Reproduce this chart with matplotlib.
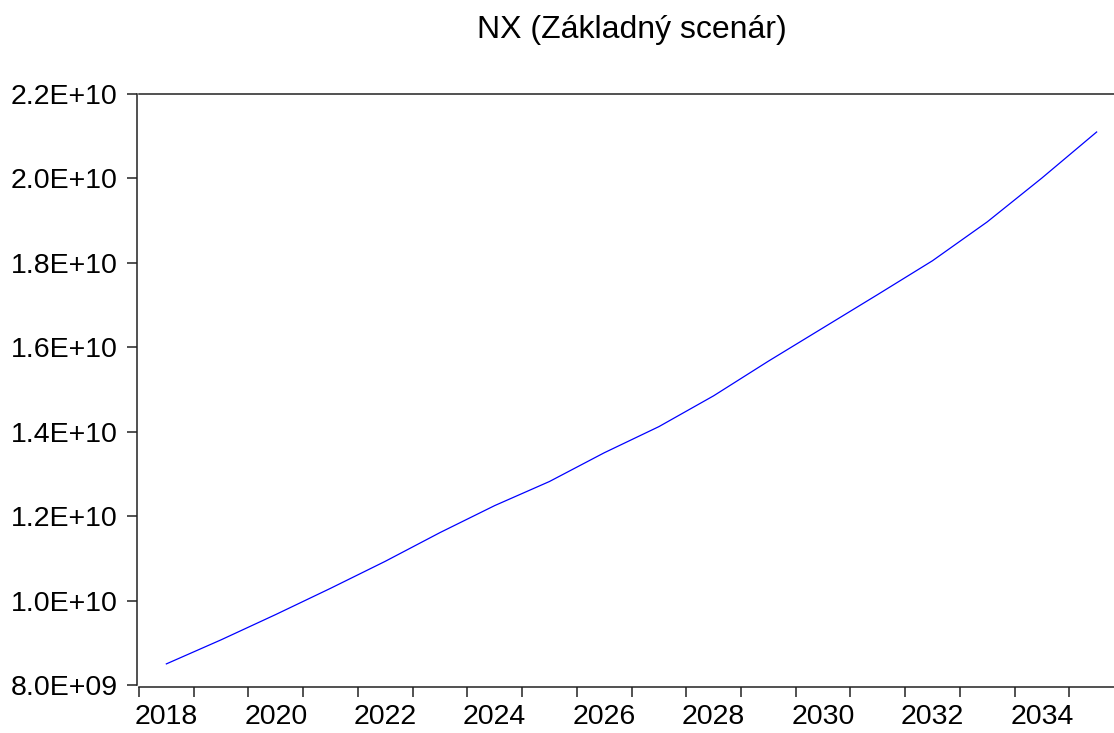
import matplotlib
matplotlib.use("Agg")
import matplotlib.pyplot as plt
from matplotlib.ticker import FixedLocator, FuncFormatter, NullFormatter

years = [2018, 2019, 2020, 2021, 2022, 2023, 2024, 2025, 2026,
         2027, 2028, 2029, 2030, 2031, 2032, 2033, 2034, 2035]
nx_values = [8.50e9, 9.07e9, 9.67e9, 10.29e9, 10.93e9, 11.61e9, 12.25e9, 12.82e9, 13.50e9,
             14.12e9, 14.85e9, 15.67e9, 16.46e9, 17.25e9, 18.05e9, 18.97e9, 20.01e9, 21.10e9]
label_years = [2018, 2020, 2022, 2024, 2026, 2028, 2030, 2032, 2034]
y_ticks = [8.0e9, 1.0e10, 1.2e10, 1.4e10, 1.6e10, 1.8e10, 2.0e10, 2.2e10]
title = "NX (Základný scenár)"

plt.rcParams['font.family'] = ['Liberation Sans', 'DejaVu Sans']

W, H = 1114, 733
fig = plt.figure(figsize=(W / 100, H / 100), dpi=100)
left_px, right_px = 139, 1124
top_px, bot_px = 94, 685
ax = fig.add_axes([left_px / W, (H - bot_px) / H, (right_px - left_px) / W, (bot_px - top_px) / H])

ax.plot(years, nx_values, color='#0000ff', lw=0.9)

ax.set_xlim(years[0] - 0.5, years[-1] + 0.5)
ax.set_ylim(8.0e9, 2.2e10)

# major ticks at period boundaries, labels centered on periods
bounds = [y - 0.5 for y in years] + [years[-1] + 0.5]
ax.xaxis.set_major_locator(FixedLocator(bounds))
ax.xaxis.set_major_formatter(NullFormatter())
ax.xaxis.set_minor_locator(FixedLocator(label_years))
ax.xaxis.set_minor_formatter(FuncFormatter(lambda v, p: f"{int(round(v))}"))
ax.tick_params(axis='x', which='major', direction='out', length=7, width=1.1, color='#222222')
ax.tick_params(axis='x', which='minor', length=0, pad=12, labelsize=20.5)

ax.set_yticks(y_ticks)
def yfmt(v, p):
    s = f"{v:.1E}"
    mant, exp = s.split("E")
    sign = exp[0]
    e = int(exp[1:])
    return f"{mant}E{sign}{e:02d}"
ax.yaxis.set_major_formatter(FuncFormatter(yfmt))
ax.tick_params(axis='y', direction='out', length=7, width=1.1, color='#222222', pad=7, labelsize=20.5)

for side in ['left', 'bottom', 'top', 'right']:
    ax.spines[side].set_linewidth(1.1)
    ax.spines[side].set_color('#222222')
ax.spines['bottom'].set_position(('outward', 1.5))
ax.spines['left'].set_position(('outward', 1.5))

ax.set_title(title, fontsize=23, pad=40)

fig.savefig("out.png", dpi=100)
